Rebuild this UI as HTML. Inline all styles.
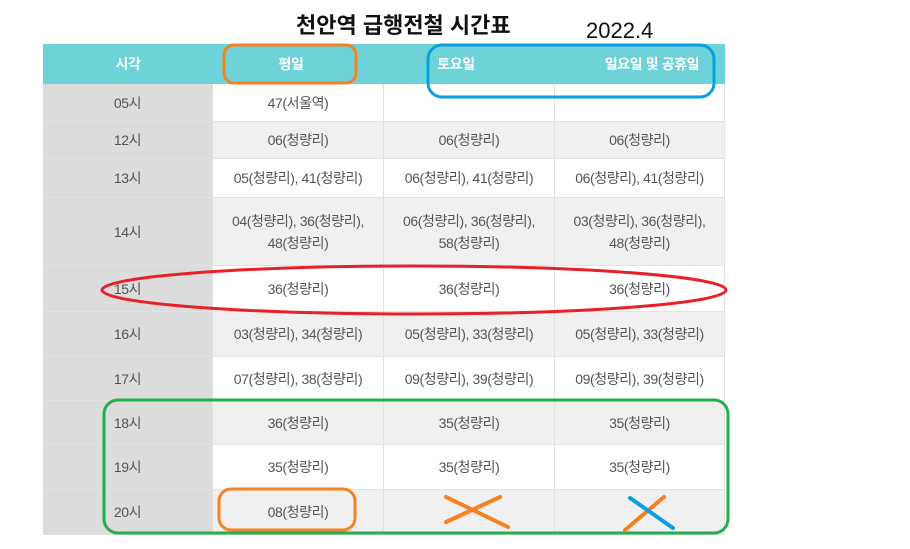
<!DOCTYPE html>
<html><head><meta charset="utf-8"><style>
body{margin:0;width:910px;height:549px;background:#fff;position:relative;overflow:hidden;font-family:"Liberation Sans","Noto Sans CJK KR",sans-serif;}
.c{position:absolute;display:flex;align-items:center;justify-content:center;text-align:center;font-size:14px;letter-spacing:-0.4px;color:#555;line-height:22px;box-sizing:border-box;border-right:1px solid #e2e2e2;border-bottom:1px solid #e2e2e2;}
.t{background:#dcdcdc;}
</style></head><body>
<div style="position:absolute;left:296px;top:8px;font-size:22px;font-weight:bold;color:#111;">천안역 급행전철 시간표</div>
<div style="position:absolute;left:586px;top:18px;font-size:22px;color:#111;">2022.4</div>
<div id="tbl"></div>
<svg width="910" height="549" style="position:absolute;left:0;top:0">
<rect x="224" y="45" width="132" height="38" rx="10" fill="none" stroke="#f58220" stroke-width="3"/>
<rect x="428" y="45" width="286" height="52" rx="14" fill="none" stroke="#0aa0e0" stroke-width="3"/>
<ellipse cx="414" cy="290" rx="312" ry="24" fill="none" stroke="#e8202a" stroke-width="3"/>
<rect x="104" y="400" width="624" height="133" rx="14" fill="none" stroke="#22b04b" stroke-width="3"/>
<rect x="219" y="489" width="136" height="41" rx="12" fill="none" stroke="#f58220" stroke-width="3"/>
<line x1="446" y1="497" x2="508" y2="527" stroke="#f58220" stroke-width="4" stroke-linecap="round"/>
<line x1="446" y1="522" x2="500" y2="497" stroke="#f58220" stroke-width="4" stroke-linecap="round"/>
<line x1="625" y1="530" x2="664" y2="497" stroke="#f58220" stroke-width="4" stroke-linecap="round"/>
<line x1="630" y1="498" x2="673" y2="528" stroke="#0aa0e0" stroke-width="4" stroke-linecap="round"/>
</svg>
<script>
const cols=[43,213,384,555,725];
const hdr=['시각','평일','토요일','일요일 및 공휴일'];
const rows=[
['05시','47(서울역)','',''],
['12시','06(청량리)','06(청량리)','06(청량리)'],
['13시','05(청량리), 41(청량리)','06(청량리), 41(청량리)','06(청량리), 41(청량리)'],
['14시','04(청량리), 36(청량리),<br>48(청량리)','06(청량리), 36(청량리),<br>58(청량리)','03(청량리), 36(청량리),<br>48(청량리)'],
['15시','36(청량리)','36(청량리)','36(청량리)'],
['16시','03(청량리), 34(청량리)','05(청량리), 33(청량리)','05(청량리), 33(청량리)'],
['17시','07(청량리), 38(청량리)','09(청량리), 39(청량리)','09(청량리), 39(청량리)'],
['18시','36(청량리)','35(청량리)','35(청량리)'],
['19시','35(청량리)','35(청량리)','35(청량리)'],
['20시','08(청량리)','','']];
const ys=[84,122,159,198,266,312,357,401,445,490,535];
const T=document.getElementById('tbl');
function cell(x,y,w,h,html,cls,bg,name){const d=document.createElement('div');d.className='c '+cls;d.style.cssText+=`left:${x}px;top:${y}px;width:${w}px;height:${h}px;`+(bg?`background:${bg};`:'');d.innerHTML=html;


T.appendChild(d);}
const hx=[128,291,456,652];
const hb=document.createElement('div');hb.style.cssText='position:absolute;left:43px;top:44px;width:682px;height:40px;background:#6dd3d8';


T.appendChild(hb);
hdr.forEach((h,i)=>{const d=document.createElement('div');d.style.cssText=`position:absolute;left:${hx[i]-80}px;width:160px;top:44px;height:40px;display:flex;align-items:center;justify-content:center;color:#fff;font-weight:bold;font-size:14px;letter-spacing:-0.4px`;d.textContent=h;


T.appendChild(d);});
rows.forEach((r,ri)=>{const bg=(ri%2==1)?'#f0f0f0':'#fff';
r.forEach((v,ci)=>cell(cols[ci],ys[ri],cols[ci+1]-cols[ci],ys[ri+1]-ys[ri],v,ci==0?'t':'',ci==0?'#dcdcdc':bg,'cell-'+ri+'-'+ci));});
</script>
</body></html>
